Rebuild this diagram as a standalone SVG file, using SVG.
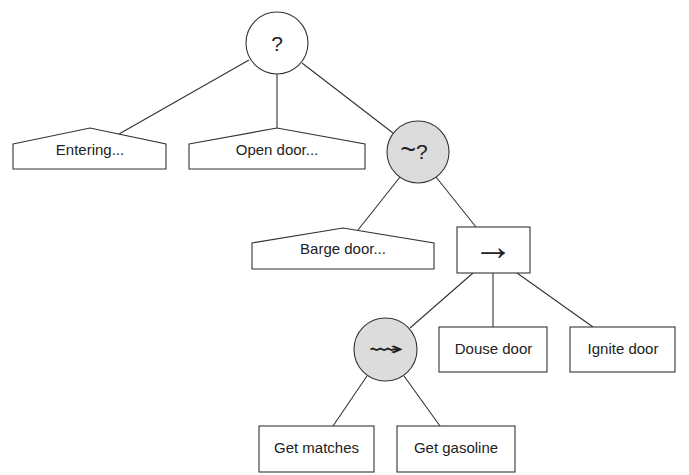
<svg xmlns="http://www.w3.org/2000/svg" width="689" height="475" viewBox="0 0 689 475">
<style>
.s{fill:#fff;stroke:#333;stroke-width:1.1}
.g{fill:#dcdcdc;stroke:#333;stroke-width:1.1}
.t{font-family:"Liberation Sans",Arial,sans-serif;font-size:15px;fill:#222;text-anchor:middle}
.sym{font-family:"DejaVu Sans","Liberation Sans",sans-serif;fill:#222;text-anchor:middle}
#connectors line{stroke:#333;stroke-width:1.1}
</style>
<rect width="689" height="475" fill="#fff"/>
<g id="connectors">
<line x1="249" y1="60" x2="119" y2="134"/>
<line x1="277" y1="74" x2="277" y2="128"/>
<line x1="302" y1="63" x2="393" y2="133"/>
<line x1="400" y1="177" x2="358" y2="230"/>
<line x1="436" y1="177" x2="476" y2="227"/>
<line x1="473" y1="273" x2="410" y2="328"/>
<line x1="493" y1="273" x2="493" y2="327"/>
<line x1="517" y1="273" x2="593" y2="327"/>
<line x1="367" y1="376" x2="333" y2="426"/>
<line x1="404" y1="376" x2="440" y2="426"/>
</g>
<g id="root">
<circle class="s" cx="277" cy="43" r="31"/>
<text class="t" x="277" y="51" style="font-size:21px">?</text>
</g>
<g id="entering">
<polygon class="s" points="13,144 90,128 166,144 166,169 13,169"/>
<text class="t" x="90" y="155">Entering...</text>
</g>
<g id="open-door">
<polygon class="s" points="189,144 277,128 365,144 365,169 189,169"/>
<text class="t" x="277" y="155">Open door...</text>
</g>
<g id="neg-selector">
<circle class="g" cx="418" cy="152" r="31"/>
<text class="t" x="414" y="159" style="font-size:21px"><tspan style="font-size:27px">~</tspan>?</text>
</g>
<g id="barge-door">
<polygon class="s" points="252,243 343,228 434,243 434,269 252,269"/>
<text class="t" x="343" y="254">Barge door...</text>
</g>
<g id="sequence">
<rect class="s" x="457" y="227" width="73" height="46"/>
<text class="t" x="493" y="260" style="font-size:40px">→</text>
</g>
<g id="parallel">
<circle class="g" cx="385.5" cy="349.5" r="31.5"/>
<text class="sym" x="386" y="355" style="font-size:18px" textLength="36" lengthAdjust="spacingAndGlyphs">⇝</text>
</g>
<g id="douse-door">
<rect class="s" x="439" y="327" width="108" height="45"/>
<text class="t" x="493.5" y="354">Douse door</text>
</g>
<g id="ignite-door">
<rect class="s" x="570" y="327" width="105" height="45"/>
<text class="t" x="623" y="354">Ignite door</text>
</g>
<g id="get-matches">
<rect class="s" x="259" y="426" width="115" height="46"/>
<text class="t" x="316.5" y="453">Get matches</text>
</g>
<g id="get-gasoline">
<rect class="s" x="397" y="426" width="118" height="46"/>
<text class="t" x="456" y="453">Get gasoline</text>
</g>
</svg>
